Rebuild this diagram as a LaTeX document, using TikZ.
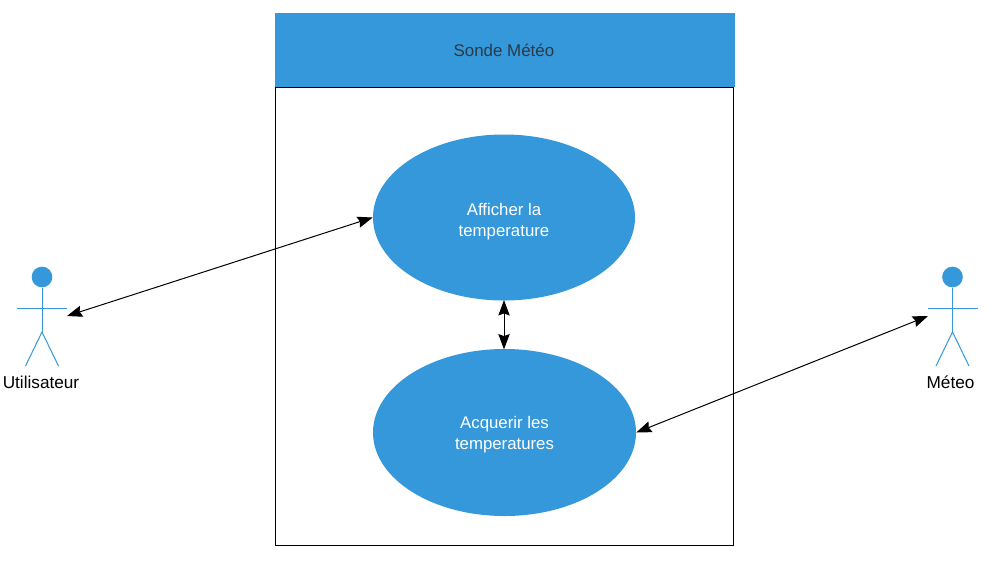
\documentclass[tikz,border=0pt]{standalone}
\usepackage{fontspec}
\setmainfont{Liberation Sans}
\usetikzlibrary{arrows.meta,shapes.geometric}
\definecolor{bluefill}{HTML}{3498DB}
\definecolor{darktxt}{HTML}{2B3A46}
\tikzset{
  x=0.75pt,y=-0.75pt,
  usecase/.style={ellipse,fill=bluefill,inner sep=0pt,minimum width=#1*0.75pt,text=white,font=\fontsize{12.6pt}{15.75pt}\selectfont,align=center},
  actorline/.style={draw=bluefill,line width=0.75pt},
  actorhead/.style={circle,fill=bluefill,inner sep=0pt,minimum size=15.5pt},
  actorlabel/.style={font=\fontsize{12.9pt}{16pt}\selectfont,text=black,inner sep=0pt},
  link/.style={draw=black,line width=0.75pt,{Stealth[length=11.5pt,width=8.5pt,inset=1.5pt]}-{Stealth[length=11.5pt,width=8.5pt,inset=1.5pt]}}
}
\newcommand{\actorfig}[4]{%
  \node[actorhead] (#1head) at (#2,277) {};
  \coordinate (#1hip) at (#2,332);
  \draw[actorline] (#1head.south) -- (#1hip);
  \draw[actorline] (#2-25,308) -- (#2+25,308);
  \draw[actorline] (#2-16.5,366) -- (#1hip) -- (#2+16.5,366);
  \node[actorlabel] (#1label) at (#4,382.5) {#3};
}
\begin{document}
\begin{tikzpicture}
\useasboundingbox (0,0) rectangle (999,565);
\fill[white] (0,0) rectangle (999,565);
% system box
\node[draw=black,fill=white,line width=0.75pt,minimum width=458*0.75pt,minimum height=458*0.75pt,inner sep=0pt,anchor=north west] (system) at (274.9,86.9) {};
\node[fill=bluefill,minimum width=460*0.75pt,minimum height=74*0.75pt,inner sep=0pt,anchor=north west,text=darktxt,font=\fontsize{12.7pt}{16pt}\selectfont] (title) at (275,13) {\hspace*{-2pt}Sonde Météo};
% use cases
\node[usecase=262,minimum height=166*0.75pt] (uc1) at (504,217.5) {\rule{0pt}{15.7pt}Afficher la\\temperature};
\node[usecase=263,minimum height=167*0.75pt] (uc2) at (504.5,432.5) {\rule{0pt}{12.2pt}Acquerir les\\temperatures};
% actors
\actorfig{u}{42}{Utilisateur}{41}
\actorfig{m}{952.5}{Méteo}{950.5}
\coordinate (uport) at (67,316);
\coordinate (mport) at (928,316);
% connectors
\draw[link] (uport) -- (uc1.west);
\draw[link,shorten <=-0.5pt,shorten >=-0.5pt] (uc1.south) -- (uc2.north -| uc1.south);
\draw[link] (uc2.east) -- (mport);
\end{tikzpicture}
\end{document}
